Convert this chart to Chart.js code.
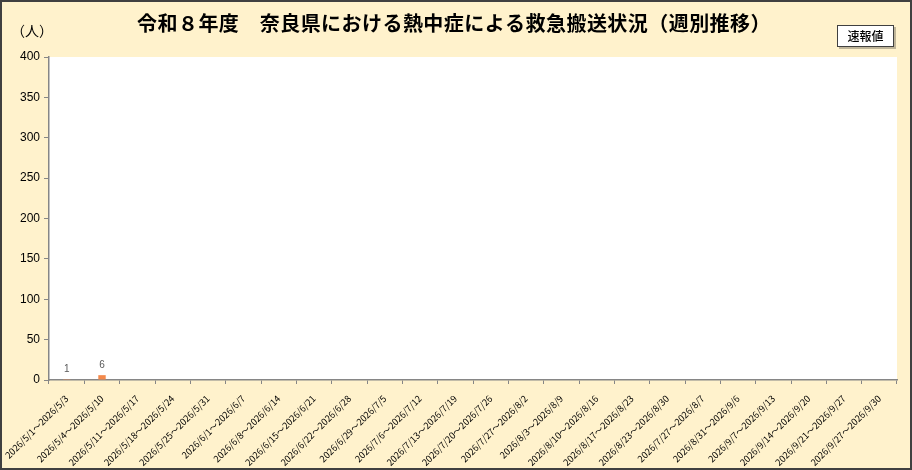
<!DOCTYPE html>
<html lang="ja">
<head>
<meta charset="utf-8">
<script src="https://cdn.jsdelivr.net/npm/chart.js@4"></script>
<style>
  html, body { margin: 0; padding: 0; background: #FFF2CC; }
  #wrap { width: 912px; height: 470px; position: relative; }
</style>
</head>
<body>
<div id="wrap"><canvas id="chart"></canvas></div>
<script>
const weekLabels = [
    '2026/5/1～2026/5/3', '2026/5/4～2026/5/10', '2026/5/11～2026/5/17', '2026/5/18～2026/5/24',
    '2026/5/25～2026/5/31', '2026/6/1～2026/6/7', '2026/6/8～2026/6/14', '2026/6/15～2026/6/21',
    '2026/6/22～2026/6/28', '2026/6/29～2026/7/5', '2026/7/6～2026/7/12', '2026/7/13～2026/7/19',
    '2026/7/20～2026/7/26', '2026/7/27～2026/8/2', '2026/8/3～2026/8/9', '2026/8/10～2026/8/16',
    '2026/8/17～2026/8/23', '2026/8/23～2026/8/30', '2026/7/27～2026/8/7', '2026/8/31～2026/9/6',
    '2026/9/7～2026/9/13', '2026/9/14～2026/9/20', '2026/9/21～2026/9/27', '2026/9/27～2026/9/30'
];
const transportCounts = [1, 6, null, null, null, null, null, null, null, null, null, null,
    null, null, null, null, null, null, null, null, null, null, null, null];
const yTicks = [0, 50, 100, 150, 200, 250, 300, 350, 400];

const titleText = '令和８年度　奈良県における熱中症による救急搬送状況（週別推移）';
const unitText = '（人）';
const badgeText = '速報値';

const JP_FONT = '"Noto Sans CJK JP", "Noto Sans", sans-serif';

// 背景・枠・タイトル・数値ラベル
const decorPlugin = {
    id: 'decor',
    beforeDraw(chart) {
        const ctx = chart.ctx;
        const { left, top, right, bottom } = chart.chartArea;
        ctx.save();
        ctx.fillStyle = '#FFF2CC';
        ctx.fillRect(0, 0, chart.width, chart.height);
        ctx.fillStyle = '#FFFFFF';
        ctx.fillRect(left, top, right - left, bottom - top);
        ctx.strokeStyle = '#404040';
        ctx.lineWidth = 2;
        ctx.strokeRect(1, 1, chart.width - 2, chart.height - 2);
        ctx.restore();
    },
    afterDraw(chart) {
        const ctx = chart.ctx;
        ctx.save();
        ctx.fillStyle = '#000';
        ctx.textBaseline = 'middle';

        ctx.font = 'bold 20px ' + JP_FONT;
        ctx.letterSpacing = '0.45px';
        ctx.textAlign = 'center';
        ctx.fillText(titleText, 454, 23);
        ctx.letterSpacing = '0px';

        ctx.font = '14px ' + JP_FONT;
        ctx.textAlign = 'left';
        ctx.fillText(unitText, 11, 31);

        // 速報値の枠
        ctx.fillStyle = 'rgba(0,0,0,0.25)';
        ctx.fillRect(839, 27, 57, 22);
        ctx.fillStyle = '#FFFFFF';
        ctx.fillRect(837, 25, 57, 22);
        ctx.strokeStyle = '#404040';
        ctx.lineWidth = 1;
        ctx.strokeRect(837.5, 25.5, 56, 21);
        ctx.fillStyle = '#000';
        ctx.font = '500 12px ' + JP_FONT;
        ctx.textAlign = 'center';
        ctx.fillText(badgeText, 865.5, 36);

        // バー上の数値
        const meta = chart.getDatasetMeta(0);
        ctx.font = '10px "Liberation Sans", sans-serif';
        ctx.fillStyle = '#595959';
        ctx.textBaseline = 'bottom';
        meta.data.forEach((bar, i) => {
            const v = transportCounts[i];
            if (v === null || v === undefined) return;
            ctx.fillText(String(v), bar.x, bar.y - 5);
        });
        ctx.restore();
    }
};

const ctx = document.getElementById('chart').getContext('2d');
const chart = new Chart(ctx, {
    type: 'bar',
    data: {
        labels: weekLabels,
        datasets: [{
            label: '救急搬送人員',
            data: transportCounts,
            backgroundColor: '#F4894B',
            borderWidth: 0,
            categoryPercentage: 1,
            barPercentage: 0.21
        }]
    },
    options: {
        responsive: true,
        maintainAspectRatio: false,
        animation: false,
        devicePixelRatio: 1,
        layout: { padding: { top: 57, right: 15, bottom: 0, left: 0 } },
        plugins: {
            legend: { display: false },
            title: { display: false },
            tooltip: { enabled: false }
        },
        scales: {
            x: {
                offset: true,
                grid: {
                    offset: true,
                    drawOnChartArea: false,
                    drawTicks: true,
                    tickLength: 4,
                    color: '#868686'
                },
                border: { color: '#868686', width: 1.5 },
                ticks: {
                    autoSkip: false,
                    minRotation: 45,
                    maxRotation: 45,
                    color: '#000',
                    padding: 9,
                    font: { family: '"Noto Sans CJK JP", sans-serif', size: 9.2 }
                },
                afterFit(scale) {
                    scale.height = 90;
                    scale.paddingLeft = 0;
                    scale.paddingRight = 0;
                }
            },
            y: {
                min: 0,
                max: 400,
                afterBuildTicks(scale) {
                    scale.ticks = yTicks.map(v => ({ value: v }));
                },
                grid: {
                    drawOnChartArea: false,
                    drawTicks: true,
                    tickLength: 5,
                    color: '#868686'
                },
                border: { color: '#868686', width: 1.5 },
                ticks: {
                    color: '#000',
                    padding: 4,
                    font: { family: '"Liberation Sans", sans-serif', size: 12 }
                },
                afterFit(scale) {
                    scale.width = 49;
                    scale.paddingTop = 0;
                    scale.paddingBottom = 0;
                }
            }
        }
    },
    plugins: [decorPlugin]
});
</script>
</body>
</html>
